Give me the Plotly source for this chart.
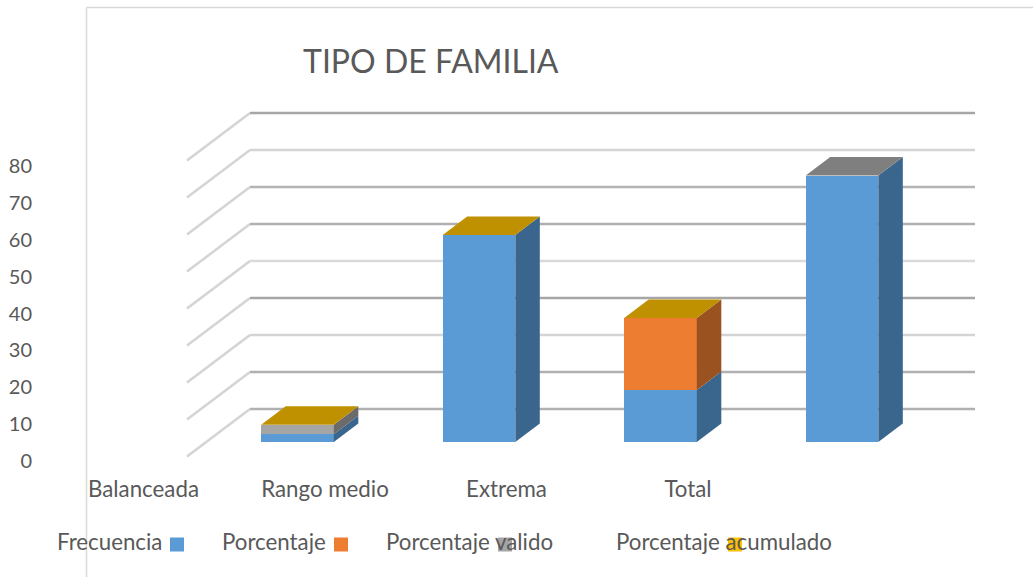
import numpy as np
import plotly.graph_objects as go

# ---- data ----
categories = ["Balanceada", "Rango medio", "Extrema", "Total"]
frecuencia = [2.1, 56.1, 14.1, 72.2]
porcentaje = [0, 0, 19.5, 0]
porcentaje_valido = [2.6, 0, 0, 0]
porcentaje_acumulado = [0, 0, 0, 0]
series_names = ["Frecuencia", "Porcentaje", "Porcentaje valido", "Porcentaje acumulado"]
y_ticks = [0, 10, 20, 30, 40, 50, 60, 70, 80]
title = "TIPO DE FAMILIA"

# ---- style / geometry ----
W, H = 1033, 577
PX_CAT = 181.5          # pixels per category
PX_VAL = 3.69           # pixels per value unit
X0_PX, Y0_PX = 297.5, 442
BAR_W = 0.40
BAR_DX, BAR_DY = 24.5 / PX_CAT, 18.5 / PX_VAL
LABEL_SHIFT = -154 / PX_CAT
front = ["#5B9BD5", "#ED7D31", "#A5A5A5", "#FFC000"]
side = ["#3A658C", "#9A5220", "#6B6B6B", "#A67C00"]
top_col = ["#3A658C", "#9A5220", "#7F7F7F", "#BF9000"]
top_series = [3, 3, 3, 2]
grid_cols = ["#B0B0B0", "#B0B0B0", "#D4D4D4", "#A6A6A6", "#DADADA", "#B0B0B0", "#B4B4B4", "#D4D4D4", "#A6A6A6"]
DIAG = "#D4D4D4"
TXT = "#595959"
FONT = "Lato, Carlito, Calibri, sans-serif"

xr = [-X0_PX / PX_CAT, (W - X0_PX) / PX_CAT]
yr = [(Y0_PX - H) / PX_VAL, Y0_PX / PX_VAL]
x_pos = np.arange(len(categories), dtype=float)
stack = np.array([frecuencia, porcentaje, porcentaje_valido, porcentaje_acumulado], dtype=float)
cum = np.cumsum(stack, axis=0)

fig = go.Figure()

# front faces, through the library's stacked bars
for k, name in enumerate(series_names):
    fig.add_trace(go.Bar(x=x_pos, y=stack[k], name=name, width=BAR_W, marker_color=front[k],
                         marker_line_width=0, showlegend=False))

# side faces and top faces derived from the same values
for i in x_pos.astype(int):
    xl, xr_bar = i - BAR_W / 2, i + BAR_W / 2
    low = 0.0
    for k in range(stack.shape[0]):
        if stack[k, i] > 0:
            high = cum[k, i]
            fig.add_trace(go.Scatter(
                x=[xr_bar, xr_bar + BAR_DX, xr_bar + BAR_DX, xr_bar, xr_bar],
                y=[low, low + BAR_DY, high + BAR_DY, high, low],
                mode="lines", line=dict(width=0), fill="toself", fillcolor=side[k],
                hoverinfo="skip", showlegend=False))
            low = high
    fig.add_trace(go.Scatter(
        x=[xl, xr_bar, xr_bar + BAR_DX, xl + BAR_DX, xl],
        y=[low, low, low + BAR_DY, low + BAR_DY, low],
        mode="lines", line=dict(width=0), fill="toself", fillcolor=top_col[top_series[i]],
        hoverinfo="skip", showlegend=False))

# invisible trace that keeps the value axis for tick labels alive
fig.add_trace(go.Scatter(x=[x_pos[0]], y=[y_ticks[0]], yaxis="y2", mode="markers",
                         marker=dict(opacity=0), hoverinfo="skip", showlegend=False))

# gridlines behind the bars: back wall plus the diagonal on the side wall
GRID_LEFT = (250 - X0_PX) / PX_CAT
GRID_RIGHT = (975 - X0_PX) / PX_CAT
DIAG_LEFT = (187 - X0_PX) / PX_CAT
BACK_LIFT = (Y0_PX - 409) / PX_VAL
FRONT_LIFT = (Y0_PX - 456.5) / PX_VAL
UNIT = 3.7 / PX_VAL
for t, c in zip(y_ticks, grid_cols):
    yb = BACK_LIFT + t * UNIT
    yf = FRONT_LIFT + t * UNIT
    fig.add_shape(type="line", xref="x", yref="y", x0=DIAG_LEFT, y0=yf, x1=GRID_LEFT, y1=yb,
                  line=dict(color=DIAG, width=2.5), layer="below")
    fig.add_shape(type="line", xref="x", yref="y", x0=GRID_LEFT, y0=yb, x1=GRID_RIGHT, y1=yb,
                  line=dict(color=c, width=2.5), layer="below")

# chart frame (left and top edges only)
fig.add_shape(type="line", xref="paper", yref="paper", x0=86.5 / W, x1=86.5 / W, y0=0, y1=1 - 7.5 / H,
              line=dict(color="#D9D9D9", width=1.5), layer="below")
fig.add_shape(type="line", xref="paper", yref="paper", x0=86.5 / W, x1=1, y0=1 - 7.5 / H, y1=1 - 7.5 / H,
              line=dict(color="#D9D9D9", width=1.5), layer="below")

# legend: text followed by swatch, as in the reference
legend_text_x = [56, 221, 385, 615]
legend_swatch_x = [170, 334, 498, 728]
for name, tx, sx, c in zip(series_names, legend_text_x, legend_swatch_x, front):
    fig.add_shape(type="rect", xref="paper", yref="paper", x0=sx / W, x1=(sx + 14) / W,
                  y0=1 - 551.5 / H, y1=1 - 537.5 / H, fillcolor=c, line_width=0, layer="below")
    fig.add_annotation(xref="paper", yref="paper", x=tx / W, y=1 - 541 / H, text=name, showarrow=False,
                       xanchor="left", yanchor="middle", xshift=-1,
                       font=dict(family=FONT, size=22.3, color=TXT))

fig.add_annotation(xref="paper", yref="paper", x=431 / W, y=1 - 60 / H, text=title, showarrow=False,
                   xanchor="center", yanchor="middle", font=dict(family=FONT, size=32, color=TXT))

fig.update_layout(
    width=W, height=H, margin=dict(l=0, r=0, t=0, b=0), autosize=False,
    paper_bgcolor="white", plot_bgcolor="white", barmode="stack", bargap=0,
    font=dict(family=FONT, color=TXT),
    xaxis=dict(range=xr, domain=[0, 1], anchor="free", position=1 - 474 / H, side="bottom",
               tickmode="array", tickvals=(x_pos + LABEL_SHIFT).tolist(), ticktext=categories,
               showgrid=False, zeroline=False, showline=False, ticks="",
               tickfont=dict(family=FONT, size=22.3, color=TXT)),
    yaxis=dict(range=yr, domain=[0, 1], visible=False, showgrid=False, zeroline=False),
    yaxis2=dict(range=[(461 - H) / 3.6875, 461 / 3.6875], domain=[0, 1], overlaying="y", anchor="free",
                position=32 / W, side="left", tickmode="array", tickvals=y_ticks, showgrid=False,
                zeroline=False, showline=False, ticks="",
                tickfont=dict(family=FONT, size=20, color=TXT)),
)

fig.write_html("out.html", config={"displayModeBar": False, "responsive": False},
               post_script="document.body.style.margin='0';document.documentElement.style.overflow='hidden';")
